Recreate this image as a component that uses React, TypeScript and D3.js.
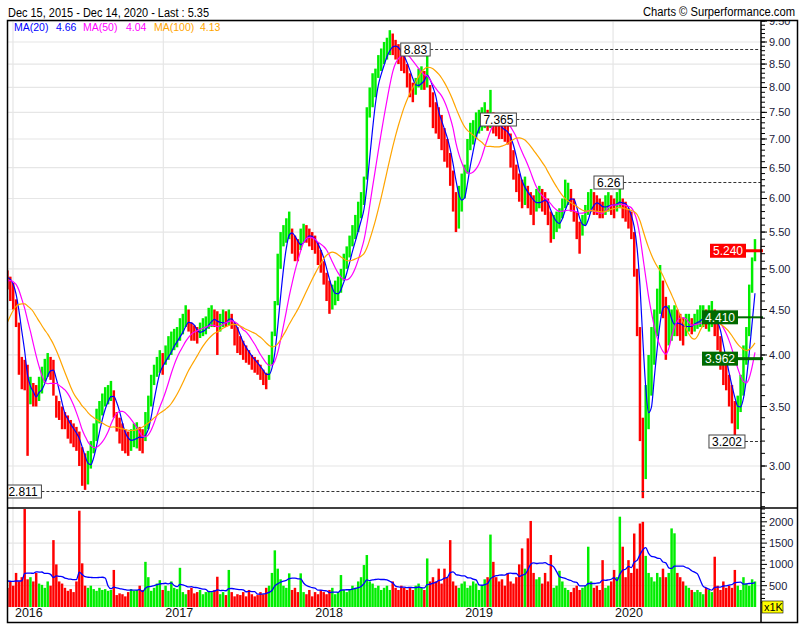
import React from "react";
import * as d3 from "d3";

// ---------- DATA ----------
const START_DATE = new Date(2015, 11, 15);
const END_DATE = new Date(2020, 11, 14);
const TITLE = "Dec 15, 2015 - Dec 14, 2020 - Last : 5.35";
const COPYRIGHT = "Charts © Surperformance.com";

// weekly highs / lows (one entry per week)
const HIGH = [
  4.98, 4.9, 4.82, 4.62, 4.35, 3.98, 3.95, 3.9, 3.78, 3.72,
  3.7, 3.78, 3.88, 3.96, 4.02, 3.98, 3.95, 3.6, 3.55, 3.5,
  3.45, 3.42, 3.38, 3.35, 3.32, 3.28, 3.15, 3.1, 3.12, 3.2,
  3.35, 3.48, 3.55, 3.62, 3.68, 3.7, 3.74, 3.65, 3.45, 3.4,
  3.35, 3.3, 3.28, 3.3, 3.35, 3.36, 3.32, 3.3, 3.45, 3.6,
  3.8, 3.9, 3.98, 4.05, 4.02, 4.1, 4.2, 4.25, 4.28, 4.3,
  4.4, 4.45, 4.55, 4.5, 4.35, 4.32, 4.3, 4.35, 4.4, 4.42,
  4.52, 4.55, 4.5, 4.48, 4.45, 4.5, 4.48, 4.5, 4.45, 4.35,
  4.3, 4.2, 4.15, 4.1, 4.05, 4.0, 3.98, 3.95, 3.9, 3.85,
  3.82, 4.0, 4.25, 4.6, 5.2, 5.5, 5.6, 5.7, 5.8, 5.55,
  5.45, 5.4, 5.55, 5.62, 5.6, 5.55, 5.5, 5.45, 5.35, 5.25,
  5.1, 4.95, 4.85, 4.8, 4.85, 4.9, 5.0, 5.2, 5.3, 5.45,
  5.6, 5.75, 5.95, 6.1, 6.35, 7.6, 8.0, 8.3, 8.4, 8.7,
  8.85, 9.0, 9.1, 9.28, 9.2, 9.05, 8.95, 8.85, 8.8, 8.5,
  8.3, 8.1, 8.2, 8.4, 8.45, 8.35, 8.98, 8.05, 7.9, 7.7,
  7.6, 7.45, 7.2, 7.0, 6.75, 6.45, 6.1, 6.2, 6.4, 6.55,
  7.0, 7.3, 7.35, 7.5, 7.55, 7.6, 7.7, 7.55, 7.95, 7.5,
  7.4, 7.35, 7.3, 7.3, 7.25, 7.1, 6.8, 6.55, 6.4, 6.3,
  6.35, 6.2, 6.1, 6.05, 6.15, 6.2, 6.15, 6.1, 6.0, 5.8,
  5.75, 5.8, 5.85, 6.0, 6.3, 6.25, 6.15, 6.0, 5.8, 5.65,
  5.75, 5.9, 6.1, 6.15, 6.1, 6.05, 6.0, 5.95, 6.05, 6.1,
  6.05, 6.0, 6.1, 6.3, 6.0, 5.95, 5.85, 5.8, 5.5, 5.0,
  4.3, 3.4, 3.7, 4.0, 4.3, 4.5, 4.75, 5.05, 4.85, 4.65,
  4.55, 4.5, 4.55, 4.5, 4.45, 4.4, 4.45, 4.45, 4.4, 4.45,
  4.5, 4.55, 4.55, 4.5, 4.55, 4.6, 4.5, 4.4, 4.2, 3.95,
  3.9, 3.8, 3.7, 3.55, 3.6, 3.8, 4.1, 4.3, 4.8, 5.15,
  5.4,
];
const LOW = [
  4.74, 4.6, 4.5, 4.3, 3.8, 3.66, 3.65, 3.08, 3.52, 3.5,
  3.5, 3.55, 3.62, 3.72, 3.78, 3.75, 3.6, 3.4, 3.38, 3.3,
  3.3, 3.22, 3.18, 3.15, 3.12, 3.0, 2.85, 2.82, 2.86, 2.98,
  3.1, 3.2, 3.35, 3.42, 3.5, 3.52, 3.55, 3.4, 3.28, 3.18,
  3.12, 3.1, 3.08, 3.12, 3.15, 3.14, 3.12, 3.1, 3.2, 3.3,
  3.5, 3.7, 3.78, 3.82, 3.8, 3.9, 3.95, 4.0, 4.05, 4.08,
  4.15, 4.22, 4.3, 4.25, 4.15, 4.15, 4.12, 4.18, 4.2, 4.22,
  4.28, 4.3, 4.3, 4.0, 4.25, 4.3, 4.3, 4.32, 4.28, 4.1,
  4.02, 4.0, 3.95, 3.92, 3.9, 3.85, 3.82, 3.8, 3.75, 3.7,
  3.66, 3.75, 3.9, 4.2, 4.55, 5.0, 5.3, 5.35, 5.4, 5.2,
  5.1, 5.1, 5.25, 5.35, 5.35, 5.3, 5.25, 5.2, 5.05, 4.95,
  4.8, 4.6, 4.45, 4.5, 4.55, 4.6, 4.7, 4.85, 5.0, 5.15,
  5.3, 5.4, 5.5, 5.7, 5.9, 6.3, 7.4, 7.6, 7.8, 8.2,
  8.35, 8.5, 8.6, 8.7, 8.7, 8.6, 8.5, 8.35, 8.3, 8.0,
  7.8, 7.7, 7.85, 8.0, 7.95, 7.95, 8.0, 7.6, 7.2, 7.1,
  7.0, 6.8, 6.6, 6.5, 6.2, 5.8, 5.5, 5.55, 5.8, 6.0,
  6.4, 6.8, 6.9, 7.0, 7.1, 7.15, 7.2, 7.15, 7.2, 7.1,
  7.05, 7.0, 7.0, 6.95, 6.9, 6.5, 6.3, 6.1, 5.95, 5.85,
  5.9, 5.85, 5.75, 5.6, 5.8, 5.85, 5.8, 5.75, 5.6, 5.35,
  5.4, 5.5, 5.55, 5.7, 5.85, 5.9, 5.8, 5.65, 5.4, 5.2,
  5.45, 5.6, 5.75, 5.8, 5.75, 5.75, 5.7, 5.7, 5.75, 5.8,
  5.75, 5.7, 5.8, 5.85, 5.7, 5.65, 5.55, 5.4, 4.9, 4.2,
  3.2, 2.76, 2.9, 3.3, 3.6, 3.9, 4.2, 4.45, 4.4, 3.95,
  4.1, 4.15, 4.2, 4.2, 4.15, 4.1, 4.2, 4.25, 4.22, 4.25,
  4.28, 4.3, 4.3, 4.28, 4.25, 4.3, 4.2, 4.05, 3.85, 3.7,
  3.65, 3.5, 3.35, 3.22, 3.3, 3.45, 3.6, 3.9, 4.2, 4.7,
  5.1,
];
// typical daily volume for each week, in thousands
const VOLUME = [
  450, 600, 500, 800, 600, 700, 2300, 650, 700, 600,
  800, 550, 520, 450, 600, 500, 1570, 1000, 600, 550,
  450, 380, 420, 350, 600, 2260, 1025, 500, 450, 500,
  420, 380, 450, 400, 420, 380, 400, 870, 280, 320,
  300, 250, 350, 420, 380, 400, 500, 400, 1060, 700,
  380, 450, 550, 630, 400, 500, 380, 600, 450, 420,
  920, 350, 300, 400, 450, 320, 350, 400, 300, 350,
  380, 350, 400, 710, 300, 350, 280, 870, 350, 250,
  300, 280, 350, 250, 400, 300, 250, 280, 350, 300,
  450, 500, 800, 1330, 900, 650, 500, 450, 790, 400,
  450, 350, 790, 350, 300, 400, 250, 350, 300, 400,
  350, 300, 400, 450, 300, 350, 750, 400, 350, 400,
  500, 450, 600, 700, 985, 1220, 600, 550, 450, 500,
  400, 450, 500, 400, 600, 450, 400, 500, 450, 400,
  450, 400, 500, 550, 450, 400, 1140, 600, 700, 600,
  900, 550, 900, 700, 1570, 600, 500, 450, 550, 600,
  450, 500, 600, 550, 400, 500, 650, 700, 1700, 1060,
  700, 600, 650, 500, 800, 600, 550, 700, 1000, 1376,
  900, 1612, 2020, 800, 650, 700, 550, 800, 600, 1220,
  450, 500, 850, 600, 450, 400, 350, 450, 500, 400,
  450, 500, 1415, 600, 450, 500, 400, 1100, 450, 500,
  600, 870, 700, 2120, 1415, 700, 1100, 800, 1725, 900,
  1960, 2000, 1200, 800, 700, 600, 800, 700, 900, 700,
  800, 1845, 1730, 800, 700, 600, 500, 450, 400, 350,
  400, 350, 300, 450, 400, 350, 1180, 500, 400, 600,
  450, 500, 450, 870, 500, 400, 700, 550, 500, 650,
  600,
];
// estimated weekly prices / volumes before the first shown week (feed the moving averages)
const PRIOR_MID = [3.3, 3.3, 3.4, 3.5, 3.6, 3.7, 3.8, 4.0, 4.2, 4.4, 4.7, 4.7, 4.8, 4.8, 4.8, 4.9, 4.9, 4.85, 4.9, 4.95];
const PRIOR_VOLUME = [600, 650, 550, 700, 600, 650, 550, 600, 700, 650];

const MA_LABELS = ["MA(20)", "MA(50)", "MA(100)"];
const MA_LAST = ["4.66", "4.04", "4.13"];
const MA_WEEKS = [4, 10, 20];
const VOL_MA_WEEKS = 10;

const PRICE_TICKS = [3.0, 3.5, 4.0, 4.5, 5.0, 5.5, 6.0, 6.5, 7.0, 7.5, 8.0, 8.5, 9.0, 9.5];
const VOL_TICKS = [500, 1000, 1500, 2000];

// extreme-value annotations: value, week where the box starts
const ANNOT_VALUES = [8.83, 7.365, 6.26, 3.202, 2.811];
const ANNOT_LABELS = ["8.83", "7.365", "6.26", "3.202", "2.811"];
const ANNOT_WEEKS = [137.3, 165, 204.5, 244.5, -0.2];

// level markers
const LEVEL_VALUES = [5.24, 4.41, 3.962];
const LEVEL_LABELS = ["5.240", "4.410", "3.962"];

// ---------- CHART ----------
const FONT = "Arial, 'Liberation Sans', sans-serif";
const UP = "#00ee00";
const DOWN = "#ff0000";
const MA_COLORS = ["#0000ff", "#ff00ff", "#ffa500"];
const LEVEL_COLORS = ["#ff0000", "#006a00", "#006a00"];
const LEVEL_RIGHT = [746, 738, 738];

const L = 7, R = 797, AX = 761, TOP = 20, MID = 508, VBASE = 607, BOT = 622;

export default function App() {
  const dayMs = 864e5;
  const weekCenter = (i: number) => new Date(START_DATE.getTime() + (i * 7 + 3.5) * dayMs);
  const weekStart = (i: number) => new Date(START_DATE.getTime() + i * 7 * dayMs);

  const x = d3.scaleTime().domain([START_DATE, END_DATE]).range([6, 756]);
  const y = d3.scaleLog().domain([9, 3]).range([42, 466]);
  const yv = d3.scaleLinear().domain([0, 2000]).range([VBASE, 521.8]);

  const weekPx = x(weekStart(1)) - x(weekStart(0));
  const bw = weekPx * 0.86;

  const mid = HIGH.map((h, i) => (h + LOW[i]) / 2);
  const full = PRIOR_MID.concat(mid);
  const off = PRIOR_MID.length;
  const color = mid.map((m, i) => (i === 0 ? (m >= PRIOR_MID[off - 1] ? UP : DOWN) : m >= mid[i - 1] ? UP : DOWN));

  const maSeries = MA_WEEKS.map((w) =>
    mid.map((_, i) => d3.mean(full.slice(i + off - w + 1, i + off + 1)) as number)
  );
  const vfull = PRIOR_VOLUME.concat(VOLUME);
  const voff = PRIOR_VOLUME.length;
  const volMa = VOLUME.map((_, i) => d3.mean(vfull.slice(i + voff - VOL_MA_WEEKS + 1, i + voff + 1)) as number);

  const line = d3
    .line<number>()
    .x((_, i) => x(weekCenter(i)))
    .y((d) => y(d))
    .curve(d3.curveMonotoneX);
  const vline = d3
    .line<number>()
    .x((_, i) => x(weekCenter(i)))
    .y((d) => yv(d))
    .curve(d3.curveMonotoneX);

  const years = x.ticks(d3.timeYear);
  const minorPrice = d3.range(27, 96).map((v) => v / 10);
  const minorVol = d3.range(100, 2400, 100);
  const textW = (s: string) => s.length * 6.6 - (s.includes(".") ? 3 : 0);

  return (
    <svg width={805} height={630} style={{ position: "absolute", left: 0, top: 0, background: "#fff" }} fontFamily={FONT}>
      <defs>
        <clipPath id="pclip">
          <rect x={L} y={TOP} width={AX - L} height={MID - TOP} />
        </clipPath>
        <clipPath id="vclip">
          <rect x={L} y={MID} width={AX - L} height={VBASE - MID} />
        </clipPath>
        <clipPath id="aclip">
          <rect x={AX} y={TOP} width={R - AX} height={MID - TOP} />
        </clipPath>
      </defs>
      <rect x={0} y={0} width={805} height={630} fill="#fff" />

      {/* header */}
      <text x={8} y={17} fontSize={12} fill="#000" textLength={201} lengthAdjust="spacingAndGlyphs">{TITLE}</text>
      <text x={643} y={15.5} fontSize={12} fill="#000" textLength={152} lengthAdjust="spacingAndGlyphs">{COPYRIGHT}</text>

      {/* grid */}
      {PRICE_TICKS.map((t) => (
        <line key={"hg" + t} x1={L} x2={AX} y1={y(t)} y2={y(t)} stroke="#e6e6e6" strokeWidth={1.2} clipPath="url(#pclip)" />
      ))}
      {VOL_TICKS.map((t) => (
        <line key={"vg" + t} x1={L} x2={AX} y1={yv(t)} y2={yv(t)} stroke="#e6e6e6" strokeWidth={1.2} />
      ))}
      {years.map((d) => (
        <line key={"yg" + +d} x1={x(d)} x2={x(d)} y1={TOP} y2={VBASE} stroke="#e6e6e6" strokeWidth={1.2} />
      ))}

      {/* price bars */}
      <g clipPath="url(#pclip)">
        {HIGH.map((h, i) => {
          const cx = x(weekCenter(i));
          const y1 = y(h), y2 = y(LOW[i]);
          return <rect key={"b" + i} x={cx - bw / 2} y={y1} width={bw} height={Math.max(1, y2 - y1)} fill={color[i]} />;
        })}
        {maSeries.map((s, k) => (
          <path key={"ma" + k} d={line(s) || ""} fill="none" stroke={MA_COLORS[k]} strokeWidth={1.2} />
        ))}

        {/* annotations */}
        {ANNOT_VALUES.map((v, k) => {
          const bx = x(weekStart(ANNOT_WEEKS[k]));
          const yy = Math.round(y(v)) + 0.5;
          const w = textW(ANNOT_LABELS[k]) + 6;
          return (
            <g key={"an" + k}>
              <line x1={bx + w} x2={AX} y1={yy} y2={yy} stroke="#333" strokeDasharray="3,2" />
              <rect x={bx} y={yy - 6.5} width={w} height={13} fill="#fff" stroke="#444" />
              <text x={bx + 3} y={yy + 4.5} fontSize={12} fill="#000">{ANNOT_LABELS[k]}</text>
            </g>
          );
        })}
      </g>

      {/* legend */}
      {MA_LABELS.map((lab, k) => {
        const xs = [14, 83, 154][k];
        const xv = [56, 126, 200][k];
        return (
          <g key={"lg" + k}>
            <text x={xs} y={31} fontSize={10.5} fill={MA_COLORS[k]}>{lab}</text>
            <text x={xv} y={31} fontSize={10.5} fill={MA_COLORS[k]}>{MA_LAST[k]}</text>
          </g>
        );
      })}

      {/* level markers */}
      {LEVEL_VALUES.map((v, k) => {
        const yy = y(v);
        const w = textW(LEVEL_LABELS[k]) + 6;
        const rx = LEVEL_RIGHT[k];
        return (
          <g key={"lv" + k}>
            <line x1={rx} x2={AX + 2} y1={yy} y2={yy} stroke={LEVEL_COLORS[k]} strokeWidth={k === 1 ? 2 : 3} />
            <rect x={rx - w} y={yy - 7} width={w} height={14} fill={LEVEL_COLORS[k]} />
            <text x={rx - w / 2} y={yy + 4.5} fontSize={12} fill="#fff" textAnchor="middle">{LEVEL_LABELS[k]}</text>
          </g>
        );
      })}

      {/* volume */}
      <g clipPath="url(#vclip)">
        {VOLUME.map((v, i) => {
          const cx = x(weekCenter(i));
          return <rect key={"v" + i} x={cx - bw / 2} y={yv(v)} width={bw} height={VBASE - yv(v)} fill={color[i]} />;
        })}
        <path d={vline(volMa) || ""} fill="none" stroke="#0000ff" strokeWidth={1.3} />
      </g>

      {/* year labels */}
      {years.map((d) => (
        <text key={"yl" + +d} x={x(d) + 2} y={617} fontSize={12.5} fill="#111">{d3.timeFormat("%Y")(d)}</text>
      ))}

      {/* right axis */}
      <g clipPath="url(#aclip)">
        {minorPrice.map((t) => (
          <line key={"mp" + t} x1={AX} x2={AX + 4} y1={y(t)} y2={y(t)} stroke="#000" />
        ))}
        {PRICE_TICKS.map((t) => (
          <g key={"pt" + t}>
            <line x1={AX} x2={AX + 6} y1={y(t)} y2={y(t)} stroke="#000" />
            <text x={AX + 8} y={y(t) + 4} fontSize={11} fill="#1a1a3a">{t.toFixed(2)}</text>
          </g>
        ))}
      </g>
      {minorVol.map((t) => (
        <line key={"mv" + t} x1={AX} x2={AX + (t % 500 === 0 ? 6 : 4)} y1={yv(t)} y2={yv(t)} stroke="#000" />
      ))}
      {VOL_TICKS.map((t) => (
        <text key={"vt" + t} x={AX + 8} y={yv(t) + 4} fontSize={11} fill="#1a1a3a">{t}</text>
      ))}
      <rect x={AX + 1} y={601} width={21} height={12} fill="#ffff00" stroke="#000" strokeWidth={0.6} />
      <text x={AX + 3} y={611} fontSize={11} fill="#000">x1K</text>

      {/* frame */}
      <rect x={L + 0.5} y={TOP + 0.5} width={R - L} height={BOT - TOP} fill="none" stroke="#000" strokeWidth={1.5} />
      <line x1={L} x2={R} y1={MID} y2={MID} stroke="#000" strokeWidth={1.5} />
      <line x1={AX} x2={AX} y1={TOP} y2={BOT} stroke="#000" strokeWidth={1.5} />
    </svg>
  );
}
